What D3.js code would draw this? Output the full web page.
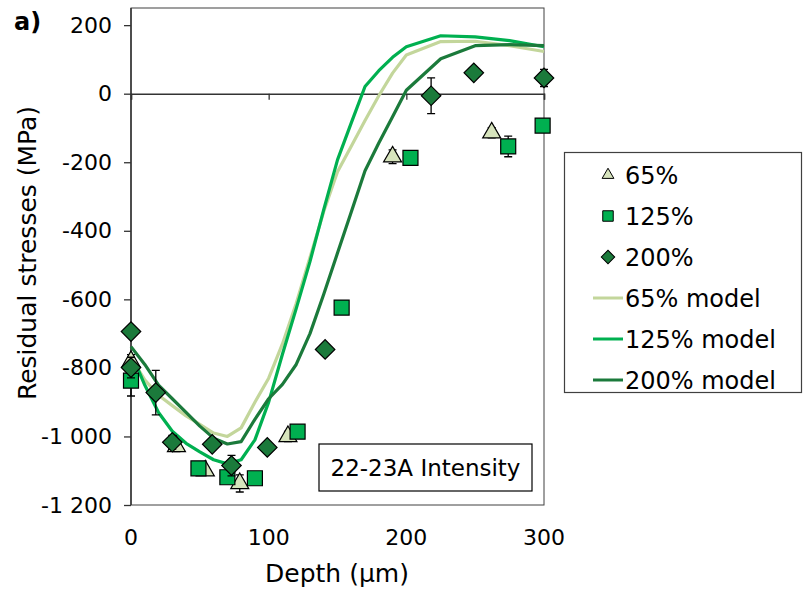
<!DOCTYPE html>
<meta charset="utf-8">
<style>
  body { margin: 0; background: #fff; }
  text { font-family: "DejaVu Sans", Verdana, sans-serif; fill: #000; }
</style>
<body>
<script src="https://d3js.org/d3.v7.min.js"></script>
<script>
// measured points
var depth65 = [0, 33, 54, 79, 114, 190, 262];
var stress65 = [-781, -1029, -1100, -1137, -1000, -184, -114];
var err65 = [20, 15, 10, 25, 15, 20, 15];

var depth125 = [0, 49, 70, 90, 121, 153, 203, 274, 299];
var stress125 = [-837, -1093, -1119, -1122, -986, -624, -187, -154, -93];
var err125 = [45, 10, 10, 10, 10, 15, 10, 30, 10];

var depth200 = [0, 0, 18, 30, 59, 73, 99, 141, 218, 249, 300];
var stress200 = [-694, -799, -872, -1017, -1023, -1085, -1032, -746, -6, 61, 46];
var err200 = [10, 30, 65, 20, 10, 30, 10, 10, 52, 15, 25];

// model curves
var modelDepth = [0, 10, 20, 30, 40, 50, 60, 70, 80, 90, 100, 110, 120, 130, 140, 150, 160, 170, 180, 190, 200, 225, 250, 275, 300];
var model65 = [-770, -835, -880, -910, -940, -965, -990, -1000, -975, -900, -830, -730, -612, -478, -344, -228, -153, -78, -6, 60, 113, 152, 153, 140, 123];
var model125 = [-756, -850, -930, -985, -1020, -1045, -1068, -1080, -1068, -1010, -900, -760, -627, -490, -338, -193, -85, 21, 67, 106, 137, 169, 166, 155, 137];
var model200 = [-738, -790, -850, -890, -930, -970, -1005, -1022, -1015, -950, -890, -848, -790, -700, -585, -465, -345, -225, -144, -67, 10, 102, 140, 143, 140];

var xTicks = [0, 100, 200, 300];
var yTicks = [200, 0, -200, -400, -600, -800, -1000, -1200];
var yTickLabels = ["200", "0", "-200", "-400", "-600", "-800", "-1 000", "-1 200"];

var W = 804, H = 594;
var svg = d3.select("body").append("svg").attr("width", W).attr("height", H);

var x = d3.scaleLinear().domain([0, 300]).range([131, 544]);
var y = d3.scaleLinear().domain([-1200, 250]).range([505, 8]);

// plot frame
svg.append("rect")
  .attr("x", x(0)).attr("y", y(250))
  .attr("width", x(300) - x(0)).attr("height", y(-1200) - y(250))
  .attr("fill", "none").attr("stroke", "#404040").attr("stroke-width", 1);

// y axis
var yAxis = d3.axisLeft(y).tickValues(yTicks).tickSize(7).tickPadding(12)
  .tickFormat(function (d, i) { return yTickLabels[i]; });
var gy = svg.append("g").attr("transform", "translate(" + x(0) + ",0)").call(yAxis);
gy.select(".domain").attr("d", "M0," + y(250) + "V" + y(-1200)).attr("stroke", "#333").attr("stroke-width", 1.5);
gy.selectAll(".tick line").attr("stroke", "#333").attr("stroke-width", 1.3);
gy.selectAll(".tick text").style("font-family", "DejaVu Sans").style("font-size", "22px").attr("fill", "#000");

// x axis along zero
var xAxis = d3.axisBottom(x).tickValues(xTicks).tickSize(6).tickFormat("");
var gx = svg.append("g").attr("transform", "translate(0," + y(0) + ")").call(xAxis);
gx.select(".domain").attr("stroke", "#333").attr("stroke-width", 1.5);
gx.selectAll(".tick line").attr("stroke", "#333").attr("stroke-width", 1.3);

// x tick labels at the bottom
svg.selectAll(".xlab").data(xTicks).enter().append("text")
  .attr("x", function (d) { return x(d); })
  .attr("y", 545)
  .attr("text-anchor", "middle")
  .style("font-size", "22px")
  .text(function (d) { return d; });

// model lines
var models = [
  { v: model65, color: "#c3d69b" },
  { v: model125, color: "#00b050" },
  { v: model200, color: "#1b7a3b" }
];
var line = d3.line().x(function (d) { return x(d[0]); }).y(function (d) { return y(d[1]); });
models.forEach(function (m) {
  svg.append("path")
    .datum(modelDepth.map(function (d, i) { return [d, m.v[i]]; }))
    .attr("d", line)
    .attr("fill", "none")
    .attr("stroke", m.color)
    .attr("stroke-width", 3.2)
    .attr("stroke-linejoin", "round");
});

// measured series
var series = [
  { d: depth65, v: stress65, e: err65, fill: "#d7e4bd", sym: d3.symbolTriangle, size: 140, rot: 0 },
  { d: depth125, v: stress125, e: err125, fill: "#00b050", sym: d3.symbolSquare, size: 225, rot: 0 },
  { d: depth200, v: stress200, e: err200, fill: "#1b7a3b", sym: d3.symbolSquare, size: 190, rot: 45 }
];
series.forEach(function (s) {
  var pts = s.d.map(function (d, i) { return { d: d, v: s.v[i], e: s.e[i] }; });
  var g = svg.append("g");
  pts.forEach(function (p) {
    var x0 = x(p.d), yt = y(p.v + p.e), yb = y(p.v - p.e);
    g.append("path")
      .attr("d", "M" + x0 + "," + yt + "V" + yb + "M" + (x0 - 4) + "," + yt + "H" + (x0 + 4) + "M" + (x0 - 4) + "," + yb + "H" + (x0 + 4))
      .attr("stroke", "#000").attr("stroke-width", 1.3).attr("fill", "none");
  });
  g.selectAll("path.mk").data(pts).enter().append("path")
    .attr("class", "mk")
    .attr("d", d3.symbol().type(s.sym).size(s.size))
    .attr("transform", function (p) { return "translate(" + x(p.d) + "," + y(p.v) + ") rotate(" + s.rot + ")"; })
    .attr("fill", s.fill)
    .attr("stroke", "#000")
    .attr("stroke-width", 1.2);
});

// annotation box
svg.append("rect").attr("x", 319).attr("y", 444).attr("width", 213).attr("height", 47)
  .attr("fill", "#fff").attr("stroke", "#000").attr("stroke-width", 1.2);
svg.append("text").attr("x", 425.5).attr("y", 476).attr("text-anchor", "middle")
  .style("font-size", "23px").text("22-23A Intensity");

// legend
var legendLabels = ["65%", "125%", "200%", "65% model", "125% model", "200% model"];
svg.append("rect").attr("x", 564.5).attr("y", 152.5).attr("width", 237).attr("height", 240)
  .attr("fill", "#fff").attr("stroke", "#404040").attr("stroke-width", 1.2);
var legendMarks = [
  { sym: d3.symbolTriangle, size: 60, rot: 0, fill: "#d7e4bd" },
  { sym: d3.symbolSquare, size: 110, rot: 0, fill: "#00b050" },
  { sym: d3.symbolSquare, size: 90, rot: 45, fill: "#1b7a3b" }
];
legendLabels.forEach(function (lab, i) {
  var cy = 175 + i * 41;
  if (i < 3) {
    var m = legendMarks[i];
    svg.append("path")
      .attr("d", d3.symbol().type(m.sym).size(m.size))
      .attr("transform", "translate(608," + cy + ") rotate(" + m.rot + ")")
      .attr("fill", m.fill).attr("stroke", "#000").attr("stroke-width", 1);
  } else {
    svg.append("line").attr("x1", 593).attr("x2", 623).attr("y1", cy).attr("y2", cy)
      .attr("stroke", models[i - 3].color).attr("stroke-width", 3);
  }
  svg.append("text").attr("x", 625).attr("y", cy + 9)
    .style("font-size", "24px").text(lab);
});

// axis titles
svg.append("text").attr("x", 337).attr("y", 582).attr("text-anchor", "middle")
  .style("font-size", "25px").text("Depth (µm)");
svg.append("text")
  .attr("transform", "translate(36,253) rotate(-90)")
  .attr("text-anchor", "middle")
  .style("font-size", "25px").text("Residual stresses (MPa)");

svg.append("text").attr("x", 14).attr("y", 30)
  .style("font-size", "24px").style("font-weight", "bold").text("a)");
</script>
</body>
